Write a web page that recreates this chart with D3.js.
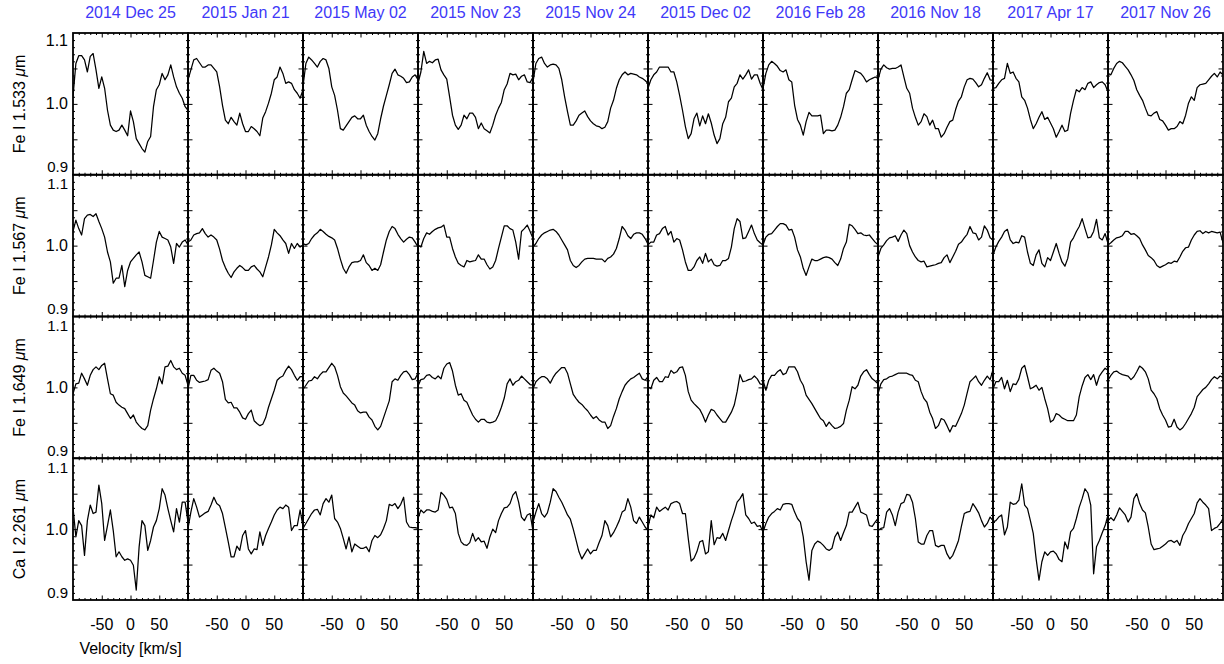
<!DOCTYPE html>
<html><head><meta charset="utf-8">
<script src="https://cdn.jsdelivr.net/npm/d3@7"></script>
<style>
body{margin:0;background:#fff}
svg{display:block}
text{font-family:"Liberation Sans",Arial,Helvetica,sans-serif}
</style>
</head><body>
<svg id="chart" width="1224" height="664"></svg>
<script>
// ---------------- DATA ----------------
const velocity = [-100,-95,-90,-85,-80,-75,-70,-65,-60,-55,-50,-45,-40,-35,-30,-25,-20,-15,-10,-5,0,5,10,15,20,25,30,35,40,45,50,55,60,65,70,75,80,85,90,95,100];

const dates = ["2014 Dec 25","2015 Jan 21","2015 May 02","2015 Nov 23","2015 Nov 24","2015 Dec 02","2016 Feb 28","2016 Nov 18","2017 Apr 17","2017 Nov 26"];

const lineNames = ["Fe I 1.533","Fe I 1.567","Fe I 1.649","Ca I 2.261"];

const xTickLabels = [-50, 0, 50];
const yTickLabels = [0.9, 1.0, 1.1];

const fe1533 = [
[1.010,1.057,1.068,1.068,1.062,1.045,1.067,1.071,1.048,1.022,1.038,1.022,0.991,0.970,0.963,0.961,0.963,0.970,0.963,0.955,0.990,0.975,0.951,0.944,0.937,0.932,0.947,0.954,0.996,1.020,1.027,1.043,1.034,1.041,1.055,1.038,1.024,1.015,1.008,0.996,0.991],
[1.034,1.048,1.062,1.064,1.058,1.052,1.052,1.055,1.055,1.050,1.045,1.024,0.998,0.977,0.972,0.981,0.975,0.970,0.987,0.972,0.961,0.961,0.968,0.965,0.961,0.955,0.980,0.989,1.001,1.015,1.034,1.038,1.052,1.043,1.029,1.031,1.029,1.020,1.015,1.008,1.020],
[1.025,1.057,1.066,1.062,1.057,1.052,1.060,1.064,1.062,1.050,1.024,1.012,0.991,0.965,0.963,0.969,0.975,0.981,0.983,0.979,0.979,0.984,0.970,0.961,0.954,0.949,0.958,0.979,0.997,1.012,1.027,1.043,1.049,1.041,1.039,1.036,1.030,1.031,1.038,1.041,1.034],
[1.029,1.045,1.074,1.057,1.060,1.058,1.062,1.063,1.048,1.041,1.035,1.010,0.984,0.970,0.964,0.970,0.984,0.979,0.987,0.987,0.981,0.965,0.973,0.965,0.962,0.959,0.970,0.984,0.994,1.002,1.020,1.028,1.043,1.041,1.042,1.034,1.039,1.041,1.031,1.030,1.038],
[1.031,1.057,1.064,1.066,1.057,1.052,1.055,1.056,1.055,1.050,1.034,1.010,0.989,0.970,0.970,0.976,0.984,0.987,0.990,0.982,0.976,0.972,0.969,0.968,0.965,0.967,0.975,0.994,1.005,1.022,1.034,1.041,1.045,1.041,1.043,1.042,1.041,1.038,1.036,1.033,1.029],
[1.022,1.034,1.041,1.045,1.052,1.052,1.052,1.052,1.045,1.045,1.031,1.012,0.991,0.968,0.951,0.958,0.979,0.987,0.969,0.983,0.972,0.986,0.973,0.956,0.944,0.951,0.972,0.981,1.003,1.008,1.024,1.029,1.041,1.035,1.041,1.048,1.035,1.041,1.041,1.029,1.020],
[1.022,1.043,1.055,1.060,1.057,1.053,1.047,1.045,1.048,1.034,1.031,0.998,0.978,0.970,0.956,0.975,0.988,0.983,0.983,0.983,0.984,0.958,0.963,0.963,0.962,0.963,0.970,0.981,0.996,1.015,1.020,1.034,1.047,1.045,1.043,1.038,1.031,1.034,1.036,1.038,1.036],
[1.034,1.049,1.055,1.051,1.049,1.050,1.050,1.052,1.055,1.038,1.022,1.015,0.994,0.981,0.970,0.975,0.986,0.982,0.970,0.977,0.965,0.965,0.953,0.958,0.967,0.975,0.977,0.992,1.004,1.010,1.024,1.034,1.036,1.035,1.030,1.024,1.027,1.036,1.044,1.034,1.033],
[1.022,1.023,1.029,1.034,1.036,1.057,1.043,1.045,1.036,1.031,1.010,1.005,0.994,0.978,0.965,0.972,0.981,0.989,0.978,0.981,0.973,0.965,0.953,0.961,0.970,0.961,0.963,0.987,1.005,1.020,1.017,1.023,1.020,1.029,1.031,1.023,1.027,1.030,1.031,1.027,1.017],
[1.043,1.041,1.050,1.057,1.060,1.058,1.053,1.048,1.041,1.033,1.020,1.012,1.005,0.994,0.984,0.983,0.987,0.989,0.978,0.976,0.970,0.963,0.965,0.965,0.968,0.975,0.972,0.984,1.001,1.010,1.005,1.023,1.027,1.028,1.029,1.034,1.039,1.043,1.038,1.045,1.041]
];

const fe1567 = [
[1.020,1.036,1.024,1.015,1.038,1.043,1.044,1.041,1.045,1.034,1.024,1.012,0.991,0.977,0.947,0.954,0.954,0.972,0.942,0.965,0.977,0.982,0.987,0.991,0.977,0.958,0.956,0.954,0.979,1.005,1.020,1.012,1.010,1.008,0.998,0.975,1.003,0.998,1.005,1.008,1.001],
[1.005,1.008,1.015,1.017,1.018,1.024,1.017,1.012,1.015,1.012,1.008,0.995,0.979,0.969,0.961,0.955,0.963,0.968,0.972,0.969,0.965,0.965,0.970,0.972,0.967,0.963,0.956,0.970,0.984,1.001,1.023,1.018,1.014,1.008,1.003,0.989,1.003,0.996,1.003,0.998,1.001],
[1.003,1.001,1.003,1.010,1.015,1.018,1.023,1.020,1.016,1.013,1.011,1.008,0.996,0.981,0.968,0.961,0.970,0.976,0.977,0.977,0.979,0.987,0.976,0.972,0.965,0.968,0.965,0.973,0.991,1.008,1.020,1.027,1.024,1.016,1.010,1.005,1.009,1.012,1.011,1.005,0.998],
[1.001,0.998,1.010,1.018,1.016,1.020,1.023,1.025,1.026,1.029,1.012,1.012,0.996,0.984,0.975,0.972,0.970,0.979,0.977,0.978,0.979,0.987,0.981,0.981,0.973,0.967,0.970,0.979,0.996,1.012,1.028,1.028,1.024,1.022,1.005,0.981,1.020,1.024,1.029,1.020,1.010],
[0.998,1.003,1.010,1.015,1.018,1.020,1.022,1.023,1.020,1.015,1.008,1.001,0.994,0.979,0.972,0.969,0.972,0.977,0.981,0.982,0.982,0.982,0.981,0.981,0.981,0.977,0.982,0.984,0.988,0.996,1.010,1.027,1.022,1.014,1.010,1.016,1.018,1.018,1.016,1.010,1.002],
[1.001,1.005,1.005,1.015,1.017,1.024,1.027,1.015,1.020,1.005,1.010,1.008,0.994,0.977,0.965,0.965,0.970,0.979,0.984,0.975,0.989,0.977,0.981,0.973,0.971,0.972,0.979,0.979,0.982,0.998,1.024,1.038,1.034,1.010,1.011,1.020,1.029,1.017,1.008,1.004,1.001],
[1.001,1.012,1.016,1.017,1.022,1.027,1.031,1.031,1.029,1.022,1.023,1.012,0.994,0.984,0.968,0.958,0.970,0.981,0.979,0.979,0.981,0.983,0.984,0.983,0.981,0.976,0.972,0.981,0.996,1.005,1.030,1.028,1.023,1.017,1.018,1.015,1.014,1.015,1.010,1.005,1.001],
[0.984,0.996,1.001,1.007,1.011,1.012,1.014,1.006,1.015,1.022,1.017,1.000,0.991,0.984,0.979,0.977,0.978,0.970,0.971,0.972,0.973,0.975,0.976,0.983,0.987,0.976,0.984,0.992,1.002,1.005,1.011,1.016,1.027,1.018,1.017,1.008,1.012,1.028,1.022,1.011,1.008],
[0.987,0.998,1.006,1.012,1.020,1.023,1.008,1.003,1.005,1.004,1.014,1.012,0.991,0.975,0.972,0.987,0.994,0.975,0.970,0.983,0.979,0.991,1.003,0.989,0.977,0.971,0.982,1.005,1.011,1.020,1.027,1.038,1.024,1.011,1.012,1.020,1.037,1.011,1.008,1.017,1.003],
[1.001,1.004,1.008,1.011,1.012,1.014,1.020,1.020,1.016,1.017,1.014,1.010,1.001,0.994,0.986,0.983,0.979,0.972,0.969,0.971,0.973,0.976,0.975,0.978,0.977,0.984,0.992,0.997,0.998,1.008,1.015,1.020,1.021,1.017,1.020,1.018,1.020,1.019,1.018,1.019,1.004]
];

const fe1649 = [
[0.991,1.005,1.006,1.020,1.012,1.003,1.017,1.025,1.029,1.025,1.031,1.034,1.012,0.991,0.989,0.979,0.975,0.972,0.970,0.963,0.956,0.961,0.951,0.946,0.942,0.940,0.946,0.968,0.984,0.998,1.015,1.005,1.029,1.030,1.038,1.029,1.025,1.027,1.020,1.017,1.003],
[0.998,1.017,1.017,1.010,1.007,1.008,1.009,1.011,1.024,1.027,1.023,1.020,1.008,0.983,0.978,0.979,0.971,0.971,0.965,0.957,0.955,0.963,0.968,0.953,0.949,0.946,0.948,0.957,0.972,0.984,0.996,1.010,1.014,1.016,1.024,1.030,1.025,1.017,1.010,1.015,1.015],
[0.997,1.003,1.009,1.010,1.015,1.012,1.018,1.022,1.022,1.028,1.034,1.029,1.017,1.001,0.992,0.988,0.983,0.978,0.975,0.967,0.964,0.965,0.965,0.958,0.954,0.945,0.940,0.945,0.957,0.969,0.981,1.008,1.012,1.010,1.017,1.022,1.023,1.018,1.011,1.012,1.020],
[1.002,1.011,1.012,1.017,1.018,1.014,1.012,1.016,1.012,1.027,1.033,1.035,1.023,1.003,0.989,0.991,0.982,0.979,0.970,0.961,0.955,0.951,0.955,0.955,0.951,0.950,0.951,0.953,0.961,0.972,0.985,1.005,1.012,1.003,1.008,1.010,1.016,1.012,1.008,1.004,1.003],
[0.998,1.008,1.012,1.015,1.015,1.012,1.006,1.014,1.020,1.024,1.028,1.028,1.020,1.005,0.990,0.984,0.979,0.976,0.971,0.967,0.961,0.956,0.959,0.954,0.951,0.951,0.942,0.946,0.959,0.970,0.984,0.994,1.003,1.008,1.012,1.014,1.017,1.020,1.012,1.010,1.015],
[1.001,0.998,1.010,1.014,1.008,1.008,1.015,1.014,1.024,1.020,1.022,1.028,1.029,1.017,0.994,0.982,0.977,0.973,0.969,0.961,0.951,0.961,0.969,0.967,0.961,0.956,0.951,0.951,0.958,0.965,0.975,0.994,1.018,1.008,1.009,1.011,1.012,1.016,1.012,1.005,1.004],
[1.010,0.996,1.010,1.017,1.017,1.022,1.025,1.018,1.020,1.029,1.029,1.029,1.022,1.010,1.003,0.989,0.983,0.977,0.970,0.963,0.956,0.953,0.945,0.951,0.946,0.942,0.943,0.945,0.949,0.968,0.982,1.001,0.998,1.003,1.016,1.022,1.025,1.018,1.012,1.009,1.005],
[0.991,1.005,1.011,1.012,1.015,1.016,1.018,1.020,1.020,1.020,1.020,1.018,1.017,1.010,1.008,0.994,0.984,0.979,0.965,0.956,0.942,0.946,0.956,0.954,0.946,0.937,0.946,0.945,0.954,0.963,0.975,0.992,1.008,1.012,1.016,1.008,1.003,1.010,1.016,1.011,1.025],
[0.998,1.008,1.008,1.014,0.998,1.010,0.994,1.005,1.004,1.012,1.027,1.031,1.015,0.998,1.000,1.003,0.996,1.000,0.984,0.970,0.951,0.954,0.963,0.961,0.957,0.955,0.953,0.953,0.953,0.961,0.987,1.002,1.014,1.018,1.011,1.018,1.003,1.016,1.022,1.027,1.024],
[1.010,1.017,1.022,1.023,1.020,1.018,1.017,1.016,1.011,1.015,1.022,1.030,1.027,1.022,1.012,0.996,0.991,0.984,0.970,0.961,0.954,0.944,0.945,0.955,0.944,0.940,0.943,0.949,0.956,0.963,0.972,0.987,0.992,0.997,1.000,1.005,1.011,1.015,1.012,1.016,1.014]
];

const ca2261 = [
[1.031,0.989,1.012,1.005,0.963,1.012,1.034,1.022,1.024,1.062,1.036,0.984,1.005,1.027,0.998,0.961,0.968,0.961,0.956,0.958,0.956,0.949,0.914,0.975,1.012,1.005,0.970,0.984,1.003,1.012,1.029,1.057,1.048,1.029,1.012,0.996,1.029,1.010,1.038,1.038,1.010],
[1.001,1.024,1.043,1.031,1.017,1.020,1.023,1.025,1.034,1.045,1.036,1.033,1.022,1.002,0.982,0.961,0.961,0.976,0.970,0.991,0.998,0.972,0.965,0.972,0.971,0.996,0.977,0.991,1.001,1.010,1.020,1.027,1.031,1.029,1.034,1.031,0.998,1.005,1.005,1.027,1.003],
[1.001,1.008,1.015,1.022,1.027,1.028,1.020,1.036,1.043,1.038,1.048,1.015,1.010,1.001,0.987,0.972,0.989,0.968,0.979,0.976,0.973,0.973,0.975,0.968,0.984,0.991,0.988,0.992,1.001,1.012,1.035,1.033,1.036,1.029,1.035,1.045,1.010,1.003,1.002,1.002,1.001],
[1.015,1.027,1.023,1.027,1.027,1.025,1.024,1.027,1.052,1.048,1.042,1.030,1.031,1.022,0.994,0.982,0.978,0.977,0.981,0.994,0.983,0.988,0.982,0.983,0.973,0.989,1.000,0.995,1.012,1.022,1.030,1.031,1.036,1.048,1.053,1.038,1.017,1.012,1.020,1.022,0.997],
[1.010,1.024,1.036,1.022,1.017,1.023,1.038,1.057,1.053,1.045,1.038,1.029,1.020,1.014,1.000,0.984,0.968,0.958,0.965,0.972,0.965,0.970,0.970,0.981,0.991,1.012,1.005,0.989,0.995,1.003,1.012,1.024,1.027,1.043,1.031,1.012,1.008,1.017,1.010,1.003,0.998],
[1.003,1.020,1.016,1.031,1.025,1.028,1.031,1.027,1.036,1.038,1.039,1.036,1.022,1.022,0.987,0.955,0.959,0.968,0.982,0.984,0.965,0.968,1.012,0.978,0.988,0.987,0.994,0.984,0.998,1.012,1.024,1.038,1.043,1.050,1.020,1.015,1.008,1.010,1.004,1.005,0.996],
[0.996,1.008,1.017,1.022,1.025,1.029,1.027,1.035,1.036,1.036,1.035,1.024,1.015,1.010,0.989,0.954,0.928,0.970,0.979,0.983,0.981,0.977,0.972,0.970,0.973,0.989,0.996,0.984,0.995,1.005,1.024,1.024,1.031,1.038,1.024,1.022,1.020,1.005,1.004,1.010,1.015],
[0.998,1.001,1.002,1.024,1.029,1.020,1.005,1.024,1.036,1.038,1.049,1.048,1.038,1.015,0.982,0.979,0.979,0.991,0.998,0.998,0.977,0.975,0.977,0.977,0.965,0.958,0.963,0.973,0.984,1.004,1.022,1.024,1.025,1.036,1.030,1.023,1.012,1.003,1.008,1.017,1.012],
[1.010,1.012,1.017,1.020,0.992,1.003,1.038,1.035,1.036,1.041,1.064,1.034,1.029,1.012,0.994,0.958,0.928,0.954,0.968,0.963,0.968,0.969,0.965,0.957,0.954,0.982,0.972,0.996,1.001,1.015,1.031,1.043,1.057,1.051,1.034,0.937,0.975,0.984,0.995,1.005,1.020],
[1.012,1.016,1.012,1.020,1.030,1.025,1.020,1.010,1.017,1.043,1.050,1.036,1.027,1.023,1.003,0.979,0.971,0.972,0.973,0.976,0.979,0.983,0.984,0.981,0.984,0.977,0.991,0.998,1.008,1.015,1.022,1.037,1.043,1.038,1.034,1.029,0.998,1.001,1.003,1.008,1.015]
];

(function () {
const rowsData = [fe1533, fe1567, fe1649, ca2261];

// ---------------- LAYOUT ----------------
const marginLeft = 73, marginTop = 33, pw = 115, ph = 141.75;
const nCols = dates.length, nRows = lineNames.length;
const titleColor = "#4038f8";
const fontSize = 16;

const svg = d3.select("#chart");
const x = d3.scaleLinear().domain([-100, 100]).range([0, pw]);
const y = d3.scaleLinear().domain([0.9, 1.1]).range([ph, 0]);

const xMinor = d3.range(-90, 91, 10).filter(v => v % 50 !== 0);
const xMajor = [-50, 0, 50];
const yMinor = d3.range(91, 110).filter(v => v !== 95 && v !== 100 && v !== 105).map(v => v / 100);
const yMajor = [0.95, 1.0, 1.05];

svg.append("defs").append("clipPath").attr("id", "pclip").append("rect")
  .attr("x", 0).attr("y", 0).attr("width", pw).attr("height", ph);

const line = d3.line().x((d, i) => x(velocity[i])).y(d => y(d)).curve(d3.curveLinear);

function styleAxis(g) {
  g.select(".domain").remove();
  g.selectAll(".tick line").attr("stroke", "#000").attr("stroke-width", 1);
  g.selectAll(".tick text").remove();
}

for (let r = 0; r < nRows; r++) {
  for (let c = 0; c < nCols; c++) {
    const g = svg.append("g").attr("transform", `translate(${marginLeft + c * pw},${marginTop + r * ph})`);

    g.append("g").attr("transform", `translate(0,${ph})`).call(d3.axisTop(x).tickValues(xMinor).tickSize(2)).call(styleAxis);
    g.append("g").attr("transform", `translate(0,${ph})`).call(d3.axisTop(x).tickValues(xMajor).tickSize(4.5)).call(styleAxis);
    g.append("g").call(d3.axisBottom(x).tickValues(xMinor).tickSize(2)).call(styleAxis);
    g.append("g").call(d3.axisBottom(x).tickValues(xMajor).tickSize(4.5)).call(styleAxis);
    g.append("g").call(d3.axisRight(y).tickValues(yMinor).tickSize(2)).call(styleAxis);
    g.append("g").call(d3.axisRight(y).tickValues(yMajor).tickSize(4.5)).call(styleAxis);
    g.append("g").attr("transform", `translate(${pw},0)`).call(d3.axisLeft(y).tickValues(yMinor).tickSize(2)).call(styleAxis);
    g.append("g").attr("transform", `translate(${pw},0)`).call(d3.axisLeft(y).tickValues(yMajor).tickSize(4.5)).call(styleAxis);

    g.append("path")
      .datum(rowsData[r][c])
      .attr("clip-path", "url(#pclip)")
      .attr("fill", "none")
      .attr("stroke", "#000")
      .attr("stroke-width", 1.25)
      .attr("stroke-linejoin", "round")
      .attr("d", line);

    g.append("rect").attr("x", 0).attr("y", 0).attr("width", pw).attr("height", ph)
      .attr("fill", "none").attr("stroke", "#000").attr("stroke-width", 1.8);
  }

  // y tick labels (first column); edge labels kept inside their own row band
  const gy = svg.append("g").attr("transform", `translate(${marginLeft},${marginTop + r * ph})`);
  yTickLabels.forEach(v => {
    let dy = 5.5, fs = fontSize;
    if (v === 1.1) { dy = (r === 0) ? 13 : 14.5; fs = (r === 0) ? fontSize : 15; }
    if (v === 0.9) { dy = -2.5; fs = 15; }
    gy.append("text").attr("x", -5).attr("y", y(v) + dy)
      .attr("text-anchor", "end").attr("font-size", fs).attr("fill", "#000")
      .text(d3.format(".1f")(v));
  });

  const cy = marginTop + r * ph + ph / 2;
  const t = svg.append("text")
    .attr("transform", `translate(25,${cy}) rotate(-90)`)
    .attr("text-anchor", "middle").attr("font-size", fontSize).attr("fill", "#000");
  t.append("tspan").text(lineNames[r] + " ");
  t.append("tspan").attr("font-style", "italic").text("\u03bc");
  t.append("tspan").text("m");
}

dates.forEach((d, c) => {
  svg.append("text").attr("x", marginLeft + c * pw + pw / 2).attr("y", 18)
    .attr("text-anchor", "middle").attr("font-size", fontSize).attr("fill", titleColor).text(d);
});

for (let c = 0; c < nCols; c++) {
  xTickLabels.forEach(v => {
    svg.append("text").attr("x", marginLeft + c * pw + x(v)).attr("y", 630)
      .attr("text-anchor", "middle").attr("font-size", fontSize).attr("fill", "#000")
      .text(v);
  });
}

svg.append("text").attr("x", marginLeft + pw / 2).attr("y", 654)
  .attr("text-anchor", "middle").attr("font-size", fontSize).attr("fill", "#000")
  .text("Velocity [km/s]");
})();
</script>
</body></html>
